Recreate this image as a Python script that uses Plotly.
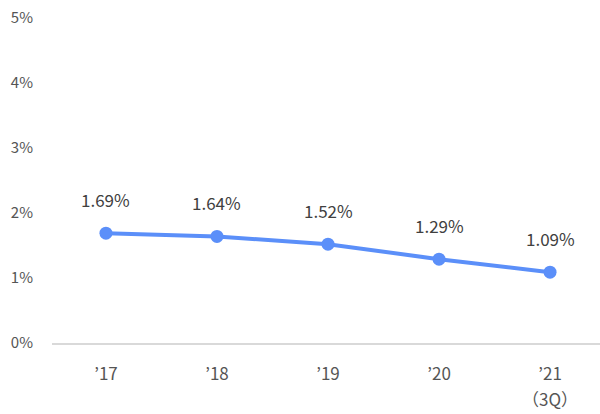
import plotly.graph_objects as go

categories = ["’17", "’18", "’19", "’20", "’21"]
sublabels = ["", "", "", "", "（3Q）"]
values = [1.69, 1.64, 1.52, 1.29, 1.09]
labels = ["1.69%", "1.64%", "1.52%", "1.29%", "1.09%"]
yticks = [0, 1, 2, 3, 4, 5]
ytick_labels = ["0%", "1%", "2%", "3%", "4%", "5%"]

xs = list(range(len(categories)))
font = "'Noto Sans CJK JP', 'Noto Sans', sans-serif"

fig = go.Figure()
fig.add_trace(go.Scatter(
    x=xs, y=values, mode="lines+markers",
    line=dict(color="#5B8FF9", width=4),
    marker=dict(color="#5B8FF9", size=13),
    hoverinfo="skip",
))
for x, v, t in zip(xs, values, labels):
    fig.add_annotation(x=x, y=v, text=t, showarrow=False, yshift=34,
                       font=dict(family=font, size=17, color="#404040"))
for x, s in zip(xs, sublabels):
    if s:
        fig.add_annotation(x=x, xref="x", y=0, yref="paper", text=s, showarrow=False,
                           yanchor="middle", yshift=-55,
                           font=dict(family=font, size=17, color="#555555"))

fig.update_layout(
    width=600, height=414,
    margin=dict(l=52, r=0, t=18, b=71, autoexpand=False),
    paper_bgcolor="white", plot_bgcolor="white",
    showlegend=False,
    font=dict(family=font, color="#555555"),
)
fig.update_xaxes(
    range=[-0.486, 4.45], tickvals=xs, ticktext=categories,
    showgrid=False, zeroline=False, showline=True, linecolor="#d9d9d9", linewidth=1.5,
    ticks="", ticklabelstandoff=15, automargin=False, ticklabeloverflow="allow",
    tickfont=dict(family=font, size=17, color="#555555"),
)
fig.update_yaxes(
    range=[0, 5], tickvals=yticks, ticktext=ytick_labels,
    showgrid=False, zeroline=False, showline=False,
    ticks="", ticklabelstandoff=18, automargin=False, ticklabeloverflow="allow",
    tickfont=dict(family=font, size=15, color="#555555"),
)
fig.write_html("out.html", config={"displayModeBar": False},
               post_script="document.body.style.margin='0';")
